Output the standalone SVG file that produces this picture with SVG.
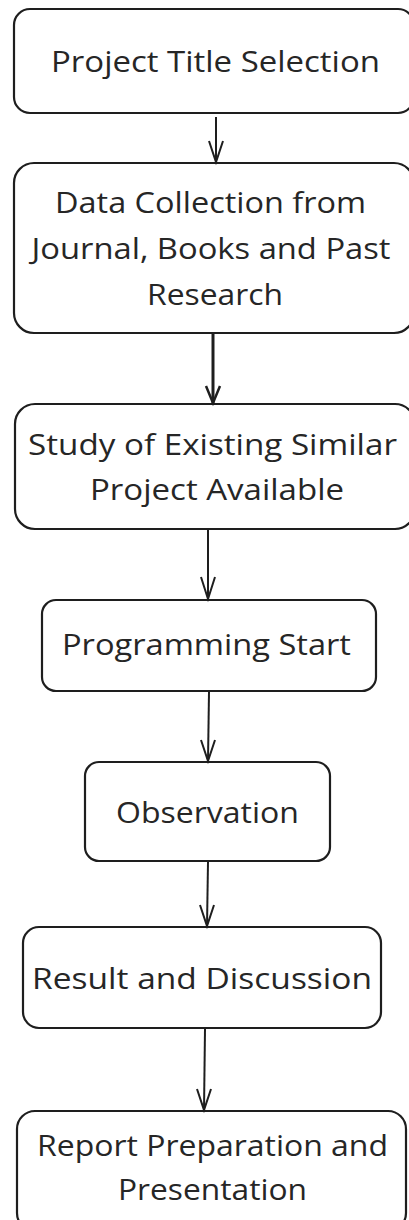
<svg xmlns="http://www.w3.org/2000/svg" width="409" height="1220" viewBox="0 0 409 1220">
<style>
.box{fill:#fff;stroke:#1e1e1e;stroke-width:2.2}
.t{font-family:"Open Sans","Liberation Sans",sans-serif;font-size:29.5px;fill:#262626;text-anchor:middle}
.c line,.c path{stroke:#1e1e1e;stroke-width:2;fill:none}
</style>
<rect width="409" height="1220" fill="#fff"/>
<g id="n1"><rect class="box" x="14" y="9" width="400" height="104" rx="16"/><text class="t" x="215.5" y="72" textLength="329" lengthAdjust="spacingAndGlyphs">Project Title Selection</text></g>
<g id="n2"><rect class="box" x="14" y="163" width="400" height="170" rx="20"/><text class="t" x="210.5" y="213" textLength="311" lengthAdjust="spacingAndGlyphs">Data Collection from</text><text class="t" x="211" y="259" textLength="359" lengthAdjust="spacingAndGlyphs">Journal, Books and Past</text><text class="t" x="215" y="305" textLength="136" lengthAdjust="spacingAndGlyphs">Research</text></g>
<g id="n3"><rect class="box" x="15" y="404" width="400" height="125" rx="20"/><text class="t" x="212.5" y="455" textLength="369" lengthAdjust="spacingAndGlyphs">Study of Existing Similar</text><text class="t" x="217" y="500" textLength="254" lengthAdjust="spacingAndGlyphs">Project Available</text></g>
<g id="n4"><rect class="box" x="42" y="600" width="334" height="91" rx="14"/><text class="t" x="206.5" y="655" textLength="289" lengthAdjust="spacingAndGlyphs">Programming Start</text></g>
<g id="n5"><rect class="box" x="85" y="762" width="245" height="99" rx="14"/><text class="t" x="207.5" y="823" textLength="183" lengthAdjust="spacingAndGlyphs">Observation</text></g>
<g id="n6"><rect class="box" x="23" y="927" width="358" height="101" rx="16"/><text class="t" x="202" y="989" textLength="340" lengthAdjust="spacingAndGlyphs">Result and Discussion</text></g>
<g id="n7"><rect class="box" x="17" y="1111" width="389" height="120" rx="18"/><text class="t" x="212.5" y="1156" textLength="351" lengthAdjust="spacingAndGlyphs">Report Preparation and</text><text class="t" x="212.5" y="1200" textLength="189" lengthAdjust="spacingAndGlyphs">Presentation</text></g>
<g class="c" id="connectors">
<line x1="216" y1="117" x2="216" y2="162"/><path d="M209 141 L216 162 L223 141"/>
<line x1="213" y1="334" x2="213" y2="403" style="stroke-width:3"/><path d="M206 386 L213 403 L220 386" style="stroke-width:2.5"/>
<line x1="208" y1="530" x2="208" y2="599"/><path d="M201 577 L208 599 L215 577"/>
<line x1="209" y1="692" x2="208" y2="761"/><path d="M201 740 L208 761 L215 740"/>
<line x1="208" y1="862" x2="207" y2="926"/><path d="M200 905 L207 926 L214 905"/>
<line x1="205" y1="1029" x2="204" y2="1110"/><path d="M197 1089 L204 1110 L211 1089"/>
</g>
</svg>
